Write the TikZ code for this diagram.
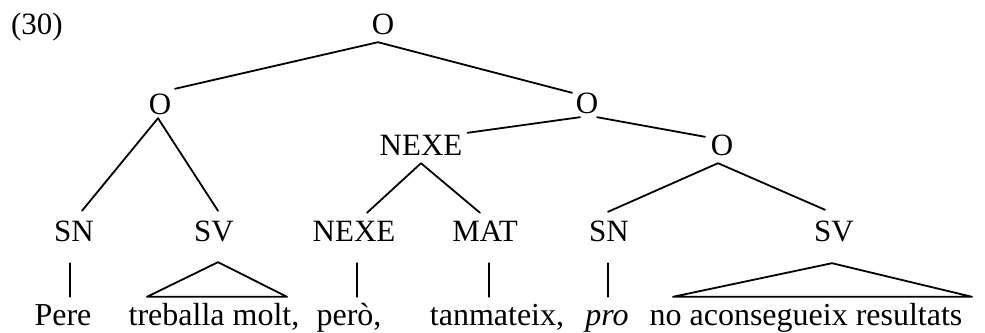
\documentclass[tikz,border=0pt]{standalone}
\usepackage{fontspec}
\setmainfont{Liberation Serif}
\begin{document}
\begin{tikzpicture}[x=1pt,y=1pt,
  every node/.style={inner sep=0pt, font=\fontsize{31}{37}\selectfont},
  cat/.style={text height=20pt, text depth=0pt},
  word/.style={anchor=base, text height=22pt, text depth=7pt, font=\fontsize{32}{38}\selectfont},
  branch/.style={line width=1.8pt, line cap=round, line join=round}]
\useasboundingbox (0,0) rectangle (985,332);

% example number
\node[cat] (num) at (37,307) {(30)};

% category labels
\node[cat] (root)  at (383,307) {O};
\node[cat] (oL)    at (160,227) {O};
\node[cat] (oR)    at (587,228) {O};
\node[cat] (nexeA) at (421,186) {NEXE};
\node[cat] (oLow)  at (722,186) {O};

\node[cat] (snA)   at (74,100)  {SN};
\node[cat] (svA)   at (214,100) {SV};
\node[cat] (nexeB) at (354,100) {NEXE};
\node[cat] (mat)   at (485,100) {MAT};
\node[cat] (snB)   at (609,100) {SN};
\node[cat] (svB)   at (834,100) {SV};

% terminal words
\node[word] (pere) at (63,6)  {Pere};
\node[word] (treb) at (214,6) {treballa molt,};
\node[word] (pero) at (349,6) {però,};
\node[word] (tanm) at (497,6) {tanmateix,};
\node[word] (pro)  at (607,6) {\textit{pro}};
\node[word] (noac) at (806,6) {no aconsegueix resultats};

% top branches
\draw[branch] ([xshift=15pt,yshift=6pt]oL.north) -- ([xshift=-5pt,yshift=-7pt]root.south)
              -- ([xshift=-15pt,yshift=1pt]oR.north);
\draw[branch] ([xshift=5pt,yshift=3pt]nexeA.north east) -- ([xshift=-7pt,yshift=-3pt]oR.south);
\draw[branch] ([xshift=10pt,yshift=-3pt]oR.south) -- ([xshift=-17pt,yshift=-1pt]oLow.north);

% lower branches
\draw[branch] ([xshift=8pt,yshift=11pt]snA.north) -- ([xshift=-2pt,yshift=-3pt]oL.south)
              -- ([xshift=4pt,yshift=11pt]svA.north);
\draw[branch] ([xshift=13pt,yshift=9pt]nexeB.north) -- ([yshift=-7pt]nexeA.south)
              -- ([xshift=-5pt,yshift=9pt]mat.north);
\draw[branch] ([xshift=-1pt,yshift=10pt]snB.north) -- ([xshift=-4pt,yshift=-7pt]oLow.south)
              -- ([xshift=-9pt,yshift=12pt]svB.north);

% unary stems
\draw[branch] ([xshift=-4pt,yshift=-21pt]snA.south)  -- ([xshift=7pt,yshift=7pt]pere.north);
\draw[branch] ([xshift=3pt,yshift=-21pt]nexeB.south) -- ([xshift=8pt,yshift=7pt]pero.north);
\draw[branch] ([xshift=4pt,yshift=-21pt]mat.south)   -- ([xshift=-8pt,yshift=7pt]tanm.north);
\draw[branch] ([xshift=-1pt,yshift=-21pt]snB.south)  -- ([xshift=1pt,yshift=7pt]pro.north);

% triangles over unanalysed phrases
\draw[branch] ([xshift=4pt,yshift=-20pt]svA.south) -- ([xshift=-67pt,yshift=7pt]treb.north)
              -- ([xshift=73pt,yshift=7pt]treb.north) -- cycle;
\draw[branch] ([xshift=-2pt,yshift=-21pt]svB.south) -- ([xshift=-133pt,yshift=7pt]noac.north)
              -- ([xshift=166pt,yshift=7pt]noac.north) -- cycle;
\end{tikzpicture}
\end{document}
